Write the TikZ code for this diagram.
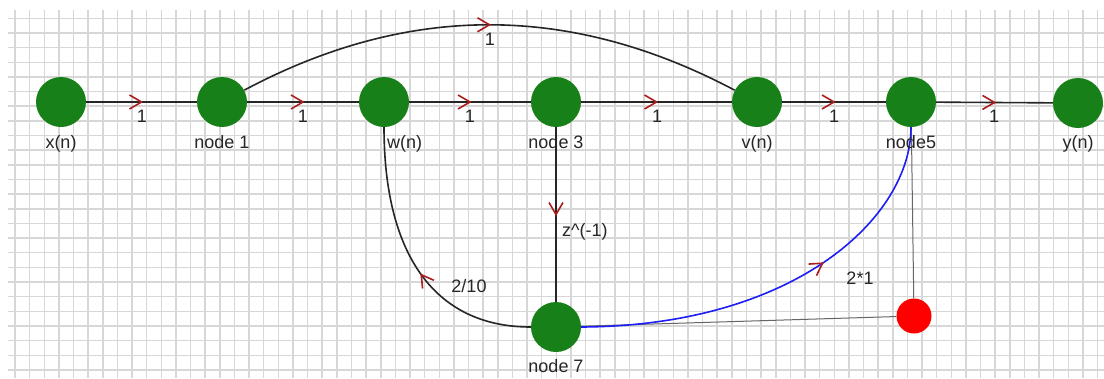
\documentclass[tikz,border=0pt]{standalone}
\usepackage{fontspec}
\setmainfont{Liberation Sans}
\usetikzlibrary{decorations.markings}
\definecolor{nodegreen}{RGB}{24,128,24}
\definecolor{arrowred}{RGB}{170,30,30}
\definecolor{gridgray}{RGB}{215,215,215}
\definecolor{curveblue}{RGB}{30,30,245}
\begin{document}
\begin{tikzpicture}[x=1pt,y=-1pt,
  dot/.style={circle, fill=nodegreen, minimum size=50pt, inner sep=0pt},
  reddot/.style={circle, fill=red, minimum size=35pt, inner sep=0pt},
  lbl/.style={font=\fontsize{18}{20}\selectfont, text=black!85, inner sep=0pt, anchor=base},
  chev/.style={decoration={markings, mark=at position #1 with {\draw[arrowred, line width=1.6pt, solid] (-12pt,7pt) -- (0pt,0pt) -- (-12pt,-7pt);}}, postaction={decorate}},
  chev/.default=0.5,
  flow/.style={draw=black!85, line width=1.6pt, chev=#1},
  flow/.default=0.5,
  blueflow/.style={draw=curveblue, line width=1.6pt, chev=#1},
  blueflow/.default=0.5,
  thinline/.style={draw=black!60, line width=1pt},
  gridline/.style={draw=gridgray, line width=1.5pt}
]
\useasboundingbox (0,0) rectangle (1104,378);
\fill[white] (0,0) rectangle (1104,378);
\foreach \i in {0,...,74} \draw[gridline] ({15+14.63*\i},10) -- ({15+14.63*\i},378);
\foreach \j in {0,...,24} \draw[gridline] (8,{18.3+14.65*\j}) -- (1104,{18.3+14.65*\j});

\node[dot] (xn) at (61,102) {};
\node[dot] (n1) at (222,102) {};
\node[dot] (wn) at (384,102) {};
\node[dot] (n3) at (556,102) {};
\node[dot] (vn) at (757,102) {};
\node[dot] (n5) at (911,102) {};
\node[dot] (yn) at (1078,103) {};
\node[dot] (n7) at (556,327) {};
\node[reddot] (rd) at (914,316) {};

\draw[thinline] (n5) -- (rd);
\draw[thinline] (n7) -- (rd);

\draw[flow] (xn) -- (n1);
\draw[flow] (n1) -- (wn);
\draw[flow] (wn) -- (n3);
\draw[flow] (n3) -- (vn);
\draw[flow] (vn) -- (n5);
\draw[flow] (n5) -- (yn);
\draw[flow] (n1) .. controls (408,3) and (570,3) .. (vn);
\draw[flow] (n3) -- (n7);
\draw[flow=0.45] (n7.west) .. controls (435,327) and (384,255) .. (wn.south);
\draw[blueflow=0.6] (n7.east) .. controls (796,326) and (911,217) .. (n5.south);

\node[lbl] (lxn) at (61,148) {x(n)};
\node[lbl] (ln1) at (222,148) {node 1};
\node[lbl, anchor=base west] (lwn) at (387,148) {w(n)};
\node[lbl] (ln3) at (556,148) {node 3};
\node[lbl] (lvn) at (757,148) {v(n)};
\node[lbl] (ln5) at (911,148) {node5};
\node[lbl] (lyn) at (1078,148) {y(n)};
\node[lbl] (ln7) at (556,372) {node 7};

\node[lbl] (e1) at (142,122) {1};
\node[lbl] (e2) at (303,122) {1};
\node[lbl] (e3) at (470,122) {1};
\node[lbl] (e4) at (657,122) {1};
\node[lbl] (e5) at (834,122) {1};
\node[lbl] (e6) at (994,122) {1};
\node[lbl] (e7) at (490,45) {1};
\node[lbl, anchor=base west] (e8) at (562,236) {z\^{}(-1)};
\node[lbl] (e9) at (469,292) {2/10};
\node[lbl] (e10) at (860,284) {2*1};
\end{tikzpicture}
\end{document}
